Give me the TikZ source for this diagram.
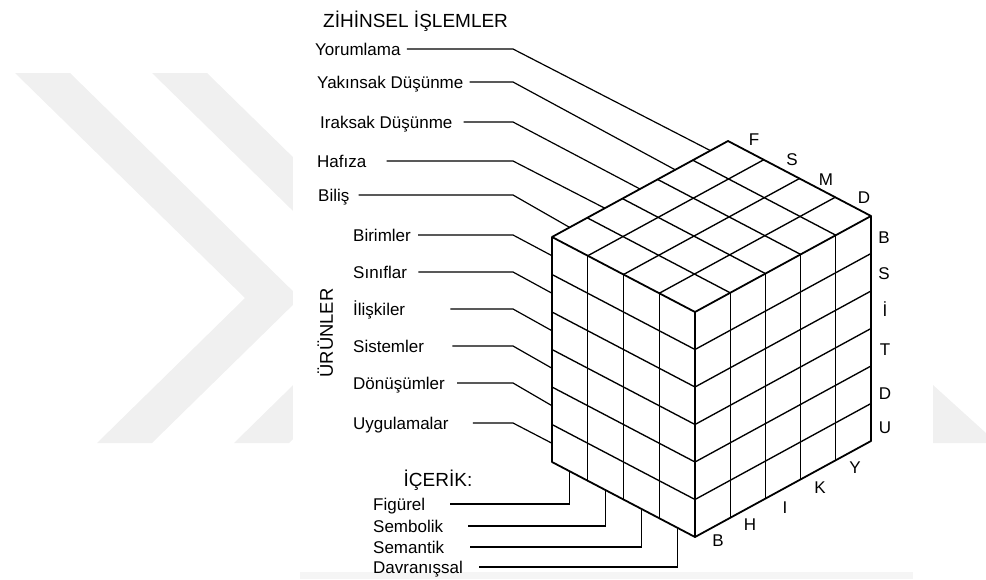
\documentclass[tikz,border=0pt]{standalone}
\usepackage{fontspec}
\setmainfont{Liberation Sans}
\usetikzlibrary{calc}
\begin{document}
\begin{tikzpicture}[x=1pt,y=-1pt,
  lab/.style={inner sep=0pt,anchor=west,font=\fontsize{17}{20}\selectfont,text height=12.2pt,text depth=0pt},
  head/.style={inner sep=0pt,font=\fontsize{19}{22}\selectfont,text height=13.6pt,text depth=0pt},
  cubelet/.style={inner sep=0pt,font=\fontsize{17}{20}\selectfont,text height=12.2pt,text depth=0pt},
  lead/.style={line width=1.2pt,black},
  grid/.style={line width=1.35pt,line join=round},
  rim/.style={line width=1.8pt,line join=round},
  wm/.style={fill=black!6,draw=none}]
\useasboundingbox (0,0) rectangle (986,579);
% watermark
\fill[wm] (15,73) -- (70,73) -- (300,298) -- (152,443) -- (97,443) -- (245,298) -- cycle;
\fill[wm] (152,73) -- (207,73) -- (437,298) -- (289,443) -- (234,443) -- (382,298) -- cycle;
\fill[wm] (933,385) -- (986,433) -- (986,443) -- (933,443) -- cycle;
\fill[white] (293,0) rectangle (933,572);
\fill[black!4] (300,572) rectangle (913,579);
% cube corners
\coordinate (LT) at (552,237);
\coordinate (FT) at (695,312);
\coordinate (RT) at (871,216);
\coordinate (BK) at (728,141);
\coordinate (LB) at (552,462);
\coordinate (FB) at (695,537);
\coordinate (RB) at (871,441);
% top face grid
\foreach \i in {1,...,4} \draw[grid] ($(LT)!\i/5!(BK)$) -- ($(FT)!\i/5!(RT)$);
\foreach \j in {1,...,3} \draw[grid] ($(LT)!\j/4!(FT)$) -- ($(BK)!\j/4!(RT)$);
% left face grid
\foreach \j in {1,...,3} \draw[grid] ($(LT)!\j/4!(FT)$) -- ($(LB)!\j/4!(FB)$);
\foreach \k in {1,...,5} \draw[grid] ($(LT)!\k/6!(LB)$) -- ($(FT)!\k/6!(FB)$);
% right face grid
\foreach \i in {1,...,4} \draw[grid] ($(FT)!\i/5!(RT)$) -- ($(FB)!\i/5!(RB)$);
\foreach \k in {1,...,5} \draw[grid] ($(FT)!\k/6!(FB)$) -- ($(RT)!\k/6!(RB)$);
% outline
\draw[rim] (LT) -- (BK) -- (RT) -- (RB) -- (FB) -- (LB) -- cycle;
\draw[rim] (LT) -- (FT) -- (RT);
\draw[rim] (FT) -- (FB);
% targets
\foreach \n/\t in {bil/0.1,haf/0.3,ira/0.5,yak/0.7,yor/0.9} \coordinate (op-\n) at ($(LT)!\t!(BK)$);
\foreach \n/\t in {bir/0.0833,sin/0.25,ili/0.4167,sis/0.5833,don/0.75,uyg/0.9167} \coordinate (pr-\n) at ($(LT)!\t!(LB)$);
\foreach \n/\t in {fig/0.125,sem/0.375,sen/0.625,dav/0.875} \coordinate (ct-\n) at ($(LB)!\t!(FB)$);
\coordinate (bend) at (513,0);
% titles
\node[head,anchor=west] (title) at (323,21) {ZİHİNSEL İŞLEMLER};
\node[head,rotate=90,font=\fontsize{18.4}{22}\selectfont] (urun) at (326,333) {ÜRÜNLER};
\node[head] (icerik) at (438,480) {İÇERİK:};
% operations
\node[lab] (yor) at (315,49) {Yorumlama};
\node[lab] (yak) at (317,82) {Yakınsak Düşünme};
\node[lab] (ira) at (320,122) {Iraksak Düşünme};
\node[lab] (haf) at (317,161) {Hafıza};
\node[lab] (bil) at (318,195) {Biliş};
\draw[lead] ([xshift=6pt]yor.east) -- (yor.east -| bend) -- (op-yor);
\draw[lead] ([xshift=6pt]yak.east) -- (yak.east -| bend) -- (op-yak);
\draw[lead] ([xshift=11pt]ira.east) -- (ira.east -| bend) -- (op-ira);
\draw[lead] ([xshift=20pt]haf.east) -- (haf.east -| bend) -- (op-haf);
\draw[lead] ([xshift=9pt]bil.east) -- (bil.east -| bend) -- (op-bil);
% products
\node[lab] (bir) at (353,235) {Birimler};
\node[lab] (sin) at (353,272) {Sınıflar};
\node[lab] (ili) at (353,309) {İlişkiler};
\node[lab] (sis) at (353,346) {Sistemler};
\node[lab] (don) at (353,383) {Dönüşümler};
\node[lab] (uyg) at (353,423) {Uygulamalar};
\draw[lead] ([xshift=7pt]bir.east) -- (bir.east -| bend) -- (pr-bir);
\draw[lead] ([xshift=11pt]sin.east) -- (sin.east -| bend) -- (pr-sin);
\draw[lead] ([xshift=45pt]ili.east) -- (ili.east -| bend) -- (pr-ili);
\draw[lead] ([xshift=28pt]sis.east) -- (sis.east -| bend) -- (pr-sis);
\draw[lead] ([xshift=12pt]don.east) -- (don.east -| bend) -- (pr-don);
\draw[lead] ([xshift=24pt]uyg.east) -- (uyg.east -| bend) -- (pr-uyg);
% contents
\node[lab] (fig) at (373,504) {Figürel};
\node[lab] (sem) at (373,526) {Sembolik};
\node[lab] (sen) at (373,547) {Semantik};
\node[lab] (dav) at (373,567) {Davranışsal};
\draw[lead] ([xshift=25pt]fig.east) -| (ct-fig);
\draw[lead] ([xshift=25pt]sem.east) -| (ct-sem);
\draw[lead] ([xshift=26pt]sen.east) -| (ct-sen);
\draw[lead] ([xshift=16pt]dav.east) -| (ct-dav);
% cube letters
\node[cubelet] (tF) at (754,139) {F};
\node[cubelet] (tS) at (792,159) {S};
\node[cubelet] (tM) at (826,179) {M};
\node[cubelet] (tD) at (864,197) {D};
\node[cubelet] (rB) at (884,237) {B};
\node[cubelet] (rS) at (884,273) {S};
\node[cubelet] (rI) at (885,310) {İ};
\node[cubelet] (rT) at (885,349) {T};
\node[cubelet] (rD) at (885,393) {D};
\node[cubelet] (rU) at (885,427) {U};
\node[cubelet] (bB) at (718,540) {B};
\node[cubelet] (bH) at (750,524) {H};
\node[cubelet] (bI) at (785,507) {I};
\node[cubelet] (bK) at (820,487) {K};
\node[cubelet] (bY) at (855,467) {Y};
\end{tikzpicture}
\end{document}
